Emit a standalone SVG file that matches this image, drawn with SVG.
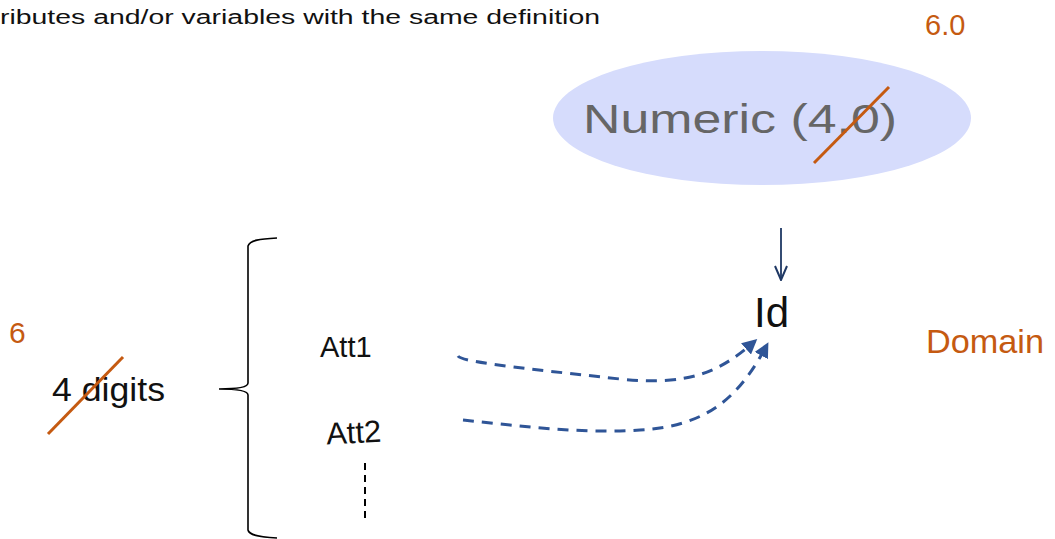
<svg xmlns="http://www.w3.org/2000/svg" width="1055" height="539" viewBox="0 0 1055 539">
  <defs>
    <style>
      .t { font-family: "Liberation Sans", Arial, sans-serif; fill: #111; }
      .o { font-family: "Liberation Sans", Arial, sans-serif; fill: #c55a11; }
      .strike { stroke: #c55a11; stroke-width: 3; fill: none; }
      .dash { stroke: #2f5597; stroke-width: 3; fill: none; stroke-dasharray: 11 8; }
      .brace { stroke: #000; stroke-width: 1.6; fill: none; }
    </style>
    <marker id="ah" viewBox="0 0 10 10" refX="8" refY="5" markerWidth="5" markerHeight="5" orient="auto" markerUnits="strokeWidth">
      <path d="M0,0 L10,5 L0,10 z" fill="#2f5597"/>
    </marker>
    <marker id="navy" viewBox="0 0 16 14" refX="15" refY="7" markerWidth="16" markerHeight="14" orient="auto" markerUnits="userSpaceOnUse">
      <path d="M1,1 L15,7 L1,13" fill="none" stroke="#1f3864" stroke-width="2"/>
    </marker>
  </defs>
  <rect width="1055" height="539" fill="#fff"/>

  <g id="title">
    <text class="t" x="0" y="24" font-size="20" fill="#222" textLength="600" lengthAdjust="spacingAndGlyphs">ributes and/or variables with the same definition</text>
  </g>

  <g id="version">
    <text class="o" x="925" y="35" font-size="29">6.0</text>
  </g>

  <g id="numeric">
    <ellipse cx="762" cy="118" rx="209" ry="67" fill="#d6dcfc"/>
    <text x="583" y="133" font-family="'Liberation Sans', Arial, sans-serif" font-size="40" fill="#666" textLength="314" lengthAdjust="spacingAndGlyphs">Numeric (4.0)</text>
    <line class="strike" x1="814" y1="163" x2="889" y2="87"/>
  </g>

  <g id="id-node">
    <text class="t" x="754" y="327" font-size="42">Id</text>
  </g>

  <g id="domain">
    <text class="o" x="926" y="353" font-size="33" textLength="118" lengthAdjust="spacingAndGlyphs">Domain</text>
  </g>

  <g id="digits">
    <text class="o" x="9" y="343" font-size="30">6</text>
    <text class="t" x="52" y="401" font-size="34" textLength="113" lengthAdjust="spacingAndGlyphs">4 digits</text>
    <line class="strike" x1="48" y1="434" x2="123" y2="357"/>
  </g>

  <g id="brace">
    <path class="brace" d="M277,238 C260,239 250,240 248,246 L248,383 C248,387 240,389 219,389 C240,389 248,391 248,395 L248,530 C249,535 258,537 277,538"/>
  </g>

  <g id="att1">
    <text class="t" x="320" y="357" font-size="29">Att1</text>
  </g>
  <g id="att2">
    <text class="t" x="326" y="443" font-size="31" transform="rotate(-3 356 430)">Att2</text>
  </g>
  <g id="more">
    <line x1="365" y1="463" x2="365" y2="518" stroke="#000" stroke-width="2" stroke-dasharray="7 5"/>
  </g>

  <g id="connectors">
    <line x1="781" y1="228" x2="781" y2="280" stroke="#1f3864" stroke-width="1.8" marker-end="url(#navy)"/>
    <path class="dash" d="M458,356 C462,362 520,368 620,379 C690,386 720,372 755,341" marker-end="url(#ah)"/>
    <path class="dash" d="M463,420 C520,426 580,434 640,430 C710,426 740,395 767,345" marker-end="url(#ah)"/>
  </g>
</svg>
